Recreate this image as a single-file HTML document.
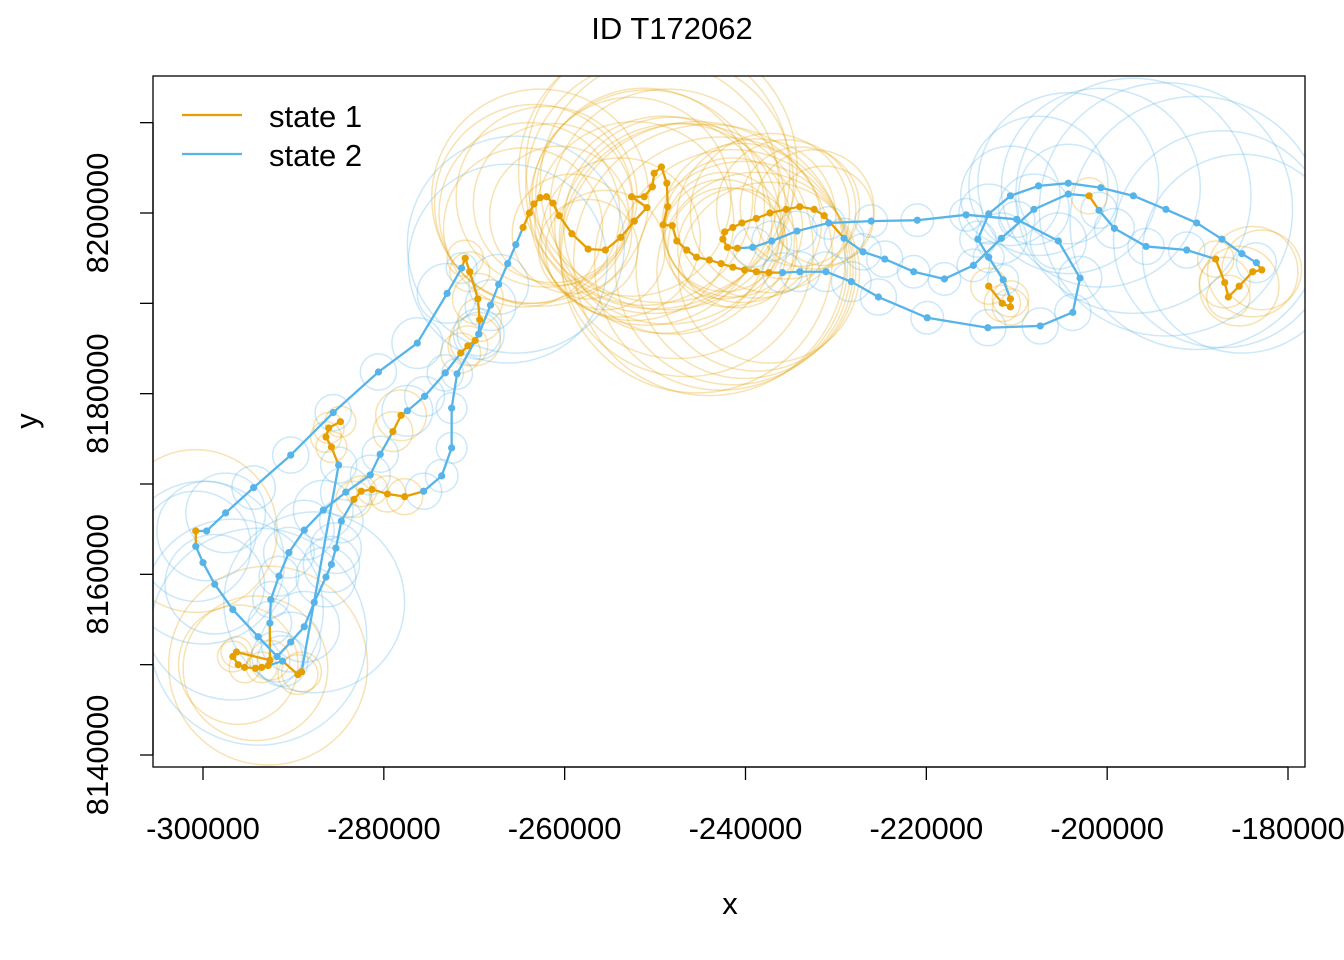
<!DOCTYPE html>
<html><head><meta charset="utf-8"><title>ID T172062</title>
<style>body{margin:0;background:#fff}svg{display:block;font-family:"Liberation Sans",Arial,sans-serif}</style>
</head><body>
<svg id="chart" width="1344" height="960" viewBox="0 0 1344 960">
<defs><clipPath id="pc"><rect x="153" y="76" width="1152" height="691"/></clipPath></defs>
<text x="672" y="39" text-anchor="middle" font-size="31">ID T172062</text>
<g id="circles" clip-path="url(#pc)"></g>
<g id="lines" clip-path="url(#pc)"></g>
<g id="points" clip-path="url(#pc)"></g>
<rect x="153" y="76" width="1152" height="691" fill="none" stroke="#000" stroke-width="1.3"/>
<g id="xaxis"></g>
<g id="yaxis"></g>
<text x="730" y="914" text-anchor="middle" font-size="31">x</text>
<text transform="translate(37,421) rotate(-90)" text-anchor="middle" font-size="31">y</text>
<g>
<g><line x1="182" y1="115" x2="242" y2="115" stroke="#E69F00" stroke-width="2.2"/><text x="269" y="127" font-size="31">state 1</text></g>
<g><line x1="182" y1="154" x2="242" y2="154" stroke="#56B4E9" stroke-width="2.2"/><text x="269" y="166" font-size="31">state 2</text></g>
</g>
</svg>
<script>
// data in km (x) and km (y); multiplied by 1000 to metres
const xs = [-284.8,-286.1,-286.4,-285.8,-285.0,-289.1,-289.5,-291.2,-292.8,-293.5,-294.2,-295.4,-296.1,-296.7,-296.3,-292.6,-292.6,-292.5,-291.6,-290.5,-288.8,-286.7,-284.2,-281.5,-280.4,-279.0,-278.1,-277.4,-275.5,-273.2,-271.5,-270.7,-269.9,-269.5,-269.4,-269.6,-270.5,-271.0,-271.4,-273.0,-276.3,-280.6,-285.6,-290.3,-294.4,-297.5,-299.6,-300.8,-300.8,-300.0,-298.7,-296.7,-293.9,-291.8,-290.3,-288.8,-287.7,-286.4,-285.8,-285.3,-284.7,-283.3,-282.5,-281.3,-279.6,-277.7,-275.6,-273.6,-272.5,-272.5,-271.9,-269.5,-268.2,-267.3,-266.3,-265.4,-264.6,-263.9,-263.4,-262.7,-262.0,-261.3,-260.6,-259.2,-257.4,-255.5,-253.8,-252.3,-250.9,-252.6,-251.2,-250.3,-250.1,-249.3,-248.7,-248.6,-249.1,-248.1,-247.6,-246.5,-245.4,-244.0,-242.7,-241.4,-240.1,-238.8,-237.4,-235.9,-234.0,-231.1,-228.3,-225.3,-219.9,-213.2,-207.4,-203.8,-203.0,-205.4,-210.0,-215.6,-221.0,-226.1,-230.8,-234.3,-237.1,-239.2,-240.9,-242.0,-242.5,-242.3,-241.4,-240.4,-238.8,-237.3,-235.5,-234.0,-232.4,-231.3,-229.1,-227.0,-224.6,-221.4,-218.0,-214.8,-211.7,-208.1,-204.3,-202.0,-200.9,-199.2,-195.7,-191.2,-188.0,-187.0,-186.6,-185.4,-183.9,-182.9,-183.5,-185.1,-187.3,-190.1,-193.5,-197.1,-200.7,-204.3,-207.6,-210.7,-213.1,-214.3,-213.1,-211.5,-210.7,-210.7,-211.6,-213.1];
const ys = [8176.9,8176.2,8175.2,8174.1,8172.1,8149.2,8148.9,8150.4,8149.9,8149.7,8149.6,8149.7,8150.0,8150.9,8151.4,8150.5,8154.6,8157.2,8159.8,8162.4,8164.9,8167.1,8169.1,8171.0,8173.3,8175.8,8177.6,8178.1,8179.7,8182.3,8184.5,8185.3,8185.9,8186.6,8188.2,8190.5,8193.5,8195.0,8193.9,8191.1,8185.6,8182.4,8177.9,8173.2,8169.6,8166.8,8164.8,8164.8,8163.1,8161.3,8158.9,8156.1,8153.1,8150.9,8152.5,8154.2,8156.9,8159.7,8161.1,8162.9,8165.9,8168.3,8169.2,8169.4,8168.9,8168.6,8169.2,8170.9,8174.0,8178.4,8182.2,8186.6,8189.8,8192.1,8194.4,8196.5,8198.4,8200.0,8201.0,8201.7,8201.8,8201.1,8199.7,8197.7,8196.0,8195.9,8197.3,8199.1,8200.6,8201.8,8201.8,8202.9,8204.4,8205.1,8203.3,8200.7,8198.7,8198.6,8196.9,8195.9,8195.1,8194.8,8194.4,8194.0,8193.7,8193.5,8193.4,8193.4,8193.5,8193.5,8192.4,8190.7,8188.4,8187.3,8187.5,8189.0,8192.8,8196.9,8199.3,8199.8,8199.2,8199.1,8198.9,8198.0,8196.9,8196.2,8196.1,8196.2,8197.1,8197.9,8198.4,8198.9,8199.4,8200.0,8200.4,8200.7,8200.4,8199.7,8197.2,8195.7,8194.9,8193.5,8192.7,8194.2,8197.2,8200.4,8202.1,8201.9,8200.3,8198.3,8196.3,8195.9,8194.9,8192.3,8190.7,8191.9,8193.5,8193.7,8194.5,8195.5,8197.1,8198.9,8200.4,8201.9,8202.8,8203.3,8203.0,8201.9,8199.9,8197.1,8195.1,8192.6,8190.5,8189.6,8190.0,8191.9];
const states = [1,1,1,1,2,1,1,2,1,1,1,1,1,1,1,1,2,2,2,2,2,2,2,2,2,1,1,2,2,2,1,1,1,2,1,1,1,1,2,2,2,2,2,2,2,2,2,1,2,2,2,2,2,2,2,2,2,2,2,2,2,1,1,1,1,1,2,2,2,2,2,2,2,2,2,2,1,1,1,1,1,1,1,1,1,1,1,1,1,1,1,1,1,1,1,1,1,1,1,1,1,1,1,1,1,1,1,2,2,2,2,2,2,2,2,2,2,2,2,2,2,2,2,2,2,2,1,1,1,1,1,1,1,1,1,1,1,1,2,2,2,2,2,2,2,2,2,1,2,2,2,2,1,1,1,1,1,1,2,2,2,2,2,2,2,2,2,2,2,2,2,2,1,1,1,1];
const radii = [1.7,1.7,1.7,1.7,2.0,2.2,2.2,2.8,11,1.7,8,1.7,6.6,1.7,1.7,2.2,2.4,2.0,2.2,2.8,3.3,3.3,2.8,2.2,2.0,2.2,2.8,2.8,2.2,2.0,2.2,2.2,2.8,2.8,2.4,2.8,2.2,2.0,1.7,3.3,2.8,2.0,2.0,2.0,2.4,4.4,5.5,9,6.1,9,5.5,10,12,2.8,3.3,3.9,10,3.3,3.1,2.8,2.4,2.0,1.7,1.7,2.0,2.0,2.0,1.8,1.7,1.7,1.7,2.4,2.8,3.3,11,12,8.8,10,11,12,10,8.8,7.7,6.6,5.5,6.6,8.8,11,13,11,12,14,15,15,14,13,12,12,13,14,15,15,14,13,12,11,10,2.2,2.2,2.2,2.2,2.0,1.8,2.0,2.0,2.0,2.4,3.1,2.0,1.8,1.8,1.8,1.8,2.2,2.2,2.2,6.6,6.6,6.6,6.6,7.7,8.8,8.8,8.8,7.7,6.6,6.6,5.5,2.2,2.0,2.0,1.8,1.8,1.8,2.8,3.9,5.5,2.0,2.0,2.2,2.0,2.0,2.0,2.8,2.4,4.4,5,4.4,2.2,11,12,14,14,13,11,10,7.7,5.5,3.3,2.0,1.7,1.7,2.0,2.0,2.0,2.0];
const xTicks = [-300000,-280000,-260000,-240000,-220000,-200000,-180000];
const yTicks = [8140000,8150000,8160000,8170000,8180000,8190000,8200000,8210000];
const yLabels = [8140000,8160000,8180000,8200000];

const NS = "http://www.w3.org/2000/svg";
const sx = v => 203 + (v + 300000) * (1085 / 120000);
const sy = v => 213 - (v - 8200000) * (542 / 60000);
const col = s => s === 1 ? "#E69F00" : "#56B4E9";
function mk(tag, attrs, parent){const e=document.createElementNS(NS,tag);for(const k in attrs)e.setAttribute(k,attrs[k]);parent.appendChild(e);return e;}
const gC=document.getElementById('circles'),gL=document.getElementById('lines'),gP=document.getElementById('points');
for(let i=0;i<xs.length;i++){
  const c=mk('circle',{cx:sx(xs[i]*1000),cy:sy(ys[i]*1000),r:(sx(-300000+radii[i]*1000)-sx(-300000)),fill:'none',stroke:col(states[i]),'stroke-opacity':0.3,'stroke-width':1.5},gC);
  
  
}
for(let i=0;i<xs.length-1;i++){
  const l=mk('line',{x1:sx(xs[i]*1000),y1:sy(ys[i]*1000),x2:sx(xs[i+1]*1000),y2:sy(ys[i+1]*1000),stroke:col(states[i]),'stroke-width':2.3},gL);
  
  
}
for(let i=0;i<xs.length;i++){
  const p=mk('circle',{cx:sx(xs[i]*1000),cy:sy(ys[i]*1000),r:3.6,fill:col(states[i])},gP);
  
  
}
const gx=document.getElementById('xaxis');
mk('line',{x1:sx(xTicks[0]),x2:sx(xTicks[xTicks.length-1]),y1:767,y2:767,stroke:'#000','stroke-width':1.3},gx);
xTicks.forEach(t=>{
  mk('line',{x1:sx(t),x2:sx(t),y1:767,y2:780,stroke:'#000','stroke-width':1.3},gx);
  const tx=mk('text',{x:sx(t),y:839,'text-anchor':'middle','font-size':31},gx);
  tx.textContent=String(t);
  
  
});
const gy=document.getElementById('yaxis');
mk('line',{x1:153,x2:153,y1:sy(yTicks[0]),y2:sy(yTicks[yTicks.length-1]),stroke:'#000','stroke-width':1.3},gy);
yTicks.forEach(t=>{mk('line',{x1:140,x2:153,y1:sy(t),y2:sy(t),stroke:'#000','stroke-width':1.3},gy);});
yLabels.forEach(t=>{
  const tx=mk('text',{transform:`translate(108,${sy(t)}) rotate(-90)`,'text-anchor':'middle','font-size':31},gy);
  tx.textContent=String(t);
  
  
});
</script>
</body></html>
